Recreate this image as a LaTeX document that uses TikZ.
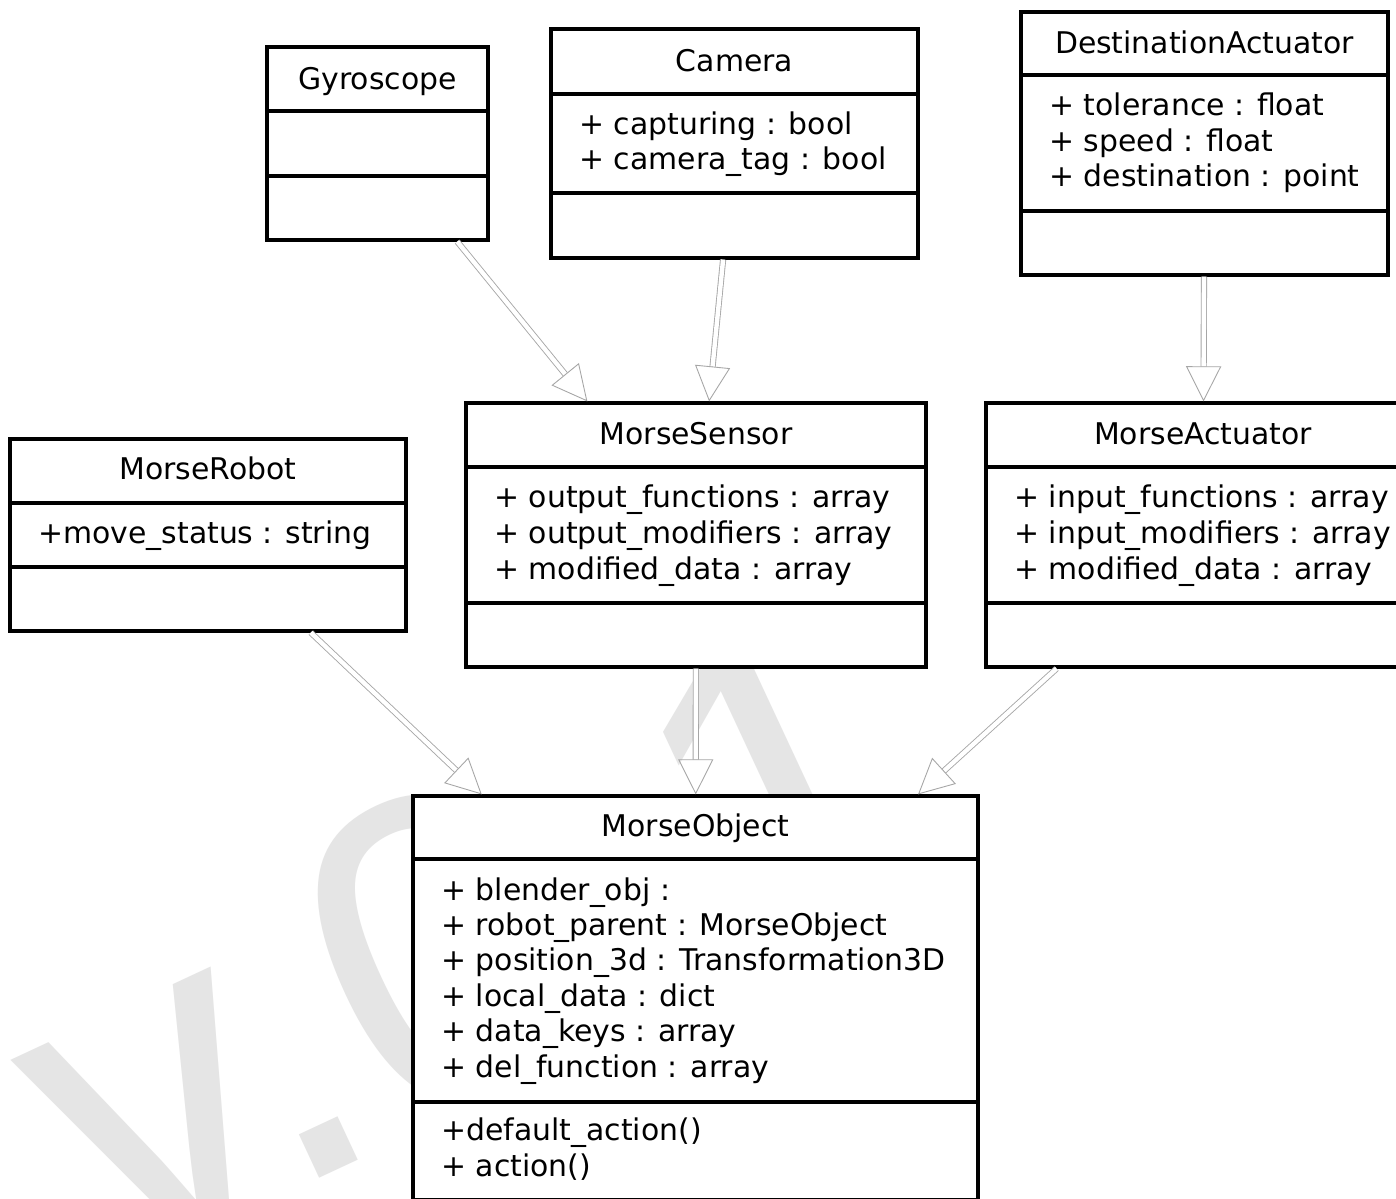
\documentclass[tikz,border=0pt]{standalone}
\usepackage{fontspec}
\setmainfont{DejaVu Sans}
\newfontfamily\markfont{Liberation Sans}
\usetikzlibrary{arrows.meta,fit}
\newcommand\umlfont{\fontsize{17}{20}\selectfont}

\begin{document}
\begin{tikzpicture}[x=0.02cm, y=-0.02cm]
    \tikzstyle{cls} = [draw=black, line width=1.8pt, fill=white, inner sep=0pt]
    \tikzstyle{bar} = [draw=black, line width=1.8pt]
    \tikzstyle{ttl} = [anchor=base, inner sep=0pt, font=\umlfont]
    \tikzstyle{attr} = [anchor=base west, inner sep=0pt, font=\umlfont]
    \tikzstyle{gen} = [draw=black!35, line width=0.5pt, double=white, double distance=2.5pt,
                       -{Triangle[open, length=20pt, width=20pt]}]
    \tikzstyle{wmark} = [anchor=base west, inner sep=0pt, text=black!10, rotate=25,
                         font=\markfont\fontsize{255}{255}\selectfont]
    \useasboundingbox (0,0) rectangle (1396,1198);
    \fill[white] (0,0) rectangle (1396,1198);

    % watermark behind the classes
    \node[wmark] (version) at (109,1276) {v.0.1};

    % Gyroscope
    \node[cls, fit={(267,47) (488,240)}] (gyro) {};
    \draw[bar] (gyro.west |- 0,111) -- (gyro.east |- 0,111);
    \draw[bar] (gyro.west |- 0,176) -- (gyro.east |- 0,176);
    \node[ttl] (gyroT) at (377.5,89) {Gyroscope};

    % Camera
    \node[cls, fit={(551,29) (918,258)}] (camera) {};
    \draw[bar] (camera.west |- 0,94) -- (camera.east |- 0,94);
    \draw[bar] (camera.west |- 0,193) -- (camera.east |- 0,193);
    \node[ttl] (cameraT) at (734.5,71.5) {Camera};
    \foreach \t [count=\i from 0] in {+ capturing : bool, + camera\_tag : bool}
        \node[attr] (camera-a\i) at (579,134.5+35*\i) {\t};

    % DestinationActuator
    \node[cls, fit={(1021,12) (1388,275)}] (dest) {};
    \draw[bar] (dest.west |- 0,75) -- (dest.east |- 0,75);
    \draw[bar] (dest.west |- 0,211) -- (dest.east |- 0,211);
    \node[ttl] (destT) at (1204.5,53.5) {DestinationActuator};
    \foreach \t [count=\i from 0] in {+ tolerance : float, + speed : float, + destination : point}
        \node[attr] (dest-a\i) at (1049,115.5+35.5*\i) {\t};

    % MorseRobot
    \node[cls, fit={(10,439) (406,631)}] (robot) {};
    \draw[bar] (robot.west |- 0,503) -- (robot.east |- 0,503);
    \draw[bar] (robot.west |- 0,567) -- (robot.east |- 0,567);
    \node[ttl] (robotT) at (208,479) {MorseRobot};
    \node[attr] (robot-a0) at (38,543) {+move\_status : string};

    % MorseSensor
    \node[cls, fit={(466,403) (926,667)}] (sensor) {};
    \draw[bar] (sensor.west |- 0,467) -- (sensor.east |- 0,467);
    \draw[bar] (sensor.west |- 0,603) -- (sensor.east |- 0,603);
    \node[ttl] (sensorT) at (696,444) {MorseSensor};
    \foreach \t [count=\i from 0] in {+ output\_functions : array, + output\_modifiers : array, + modified\_data : array}
        \node[attr] (sensor-a\i) at (494,507+36*\i) {\t};

    % MorseActuator
    \node[cls, fit={(986,403) (1420,667)}] (actuator) {};
    \draw[bar] (actuator.west |- 0,467) -- (actuator.east |- 0,467);
    \draw[bar] (actuator.west |- 0,603) -- (actuator.east |- 0,603);
    \node[ttl] (actuatorT) at (1203,444) {MorseActuator};
    \foreach \t [count=\i from 0] in {+ input\_functions : array, + input\_modifiers : array, + modified\_data : array}
        \node[attr] (actuator-a\i) at (1014,507+36*\i) {\t};

    % MorseObject
    \node[cls, fit={(413,796) (978,1200)}] (object) {};
    \draw[bar] (object.west |- 0,859) -- (object.east |- 0,859);
    \draw[bar] (object.west |- 0,1102) -- (object.east |- 0,1102);
    \node[ttl] (objectT) at (695.5,836.5) {MorseObject};
    \foreach \t [count=\i from 0] in {+ blender\_obj :, + robot\_parent : MorseObject,
            + position\_3d : Transformation3D, + local\_data : dict,
            + data\_keys : array, + del\_function : array}
        \node[attr] (object-a\i) at (441,900+35.4*\i) {\t};
    \node[attr] (object-m0) at (441,1140) {+default\_action()};
    \node[attr] (object-m1) at (441,1176) {+ action()};

    % generalisations
    \draw[gen] (gyro) -- (sensor);
    \draw[gen] (camera) -- (sensor);
    \draw[gen] (dest) -- (actuator);
    \draw[gen] (robot) -- (object);
    \draw[gen] (sensor) -- (object);
    \draw[gen] (actuator) -- (object);
\end{tikzpicture}
\end{document}
